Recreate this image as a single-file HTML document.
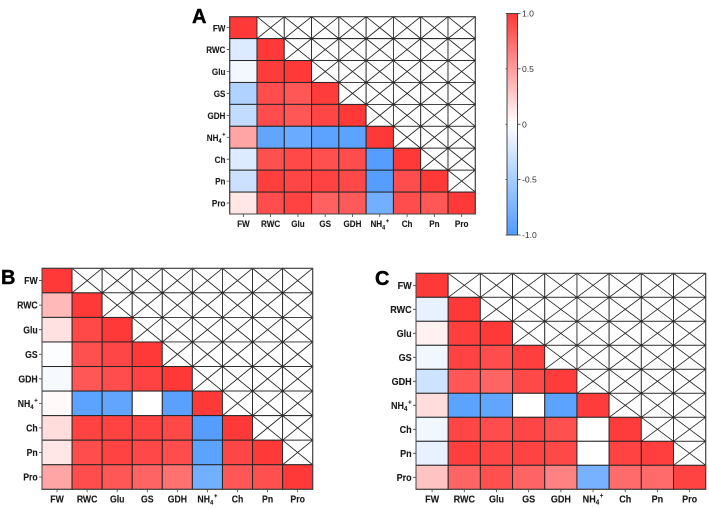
<!DOCTYPE html>
<html lang="en">
<head>
<meta charset="utf-8">
<title>Correlation heatmaps</title>
<style>
html,body{margin:0;padding:0;background:#fff;width:709px;height:508px;overflow:hidden}
svg{display:block}
text{font-family:"Liberation Sans",sans-serif}
.tick{font-weight:bold;fill:#1a1a1a;stroke:#1a1a1a;stroke-width:0.12px}
.cb{font-size:8.6px;fill:#333}
.letter{font-size:20px;font-weight:bold;fill:#000;stroke:#000;stroke-width:0.4px}
</style>
</head>
<body>
<svg id="chart" xmlns="http://www.w3.org/2000/svg" width="709" height="508" viewBox="0 0 709 508">
<defs>
<linearGradient id="cbg" x1="0" y1="0" x2="0" y2="1">
<stop offset="0" stop-color="#ff3838"/>
<stop offset="0.5" stop-color="#ffffff"/>
<stop offset="1" stop-color="#509bff"/>
</linearGradient>
</defs>
</svg>
<script>
const categories = ['FW','RWC','Glu','GS','GDH','NH4','Ch','Pn','Pro'];
const colorbarTicks = [1, 0.5, 0, -0.5, -1];
const colorbarLabels = ['1.0','0.5','0','-0.5','-1.0'];

const valuesA = [
  [1],
  [-0.2,1],
  [-0.07,0.98,1],
  [-0.45,0.9,0.85,0.98],
  [-0.35,0.9,0.85,0.93,1],
  [0.45,-0.9,-0.85,-0.93,-0.93,1],
  [-0.2,0.88,0.92,0.88,0.9,-0.97,1],
  [-0.3,0.97,0.93,0.95,0.92,-0.97,0.9,1],
  [0.12,0.9,0.95,0.8,0.83,-0.8,0.9,0.85,1]
];
const valuesB = [
  [1],
  [0.35,1],
  [0.15,0.92,1],
  [-0.02,0.88,0.93,1],
  [-0.05,0.85,0.9,0.95,1],
  [0.03,-0.93,-0.9,0,-0.95,1],
  [0.17,0.95,0.95,0.95,0.92,-0.97,1],
  [0.12,0.9,0.95,0.92,0.9,-0.93,0.93,1],
  [0.45,0.9,0.85,0.78,0.72,-0.8,0.85,0.88,1]
];
const valuesC = [
  [1],
  [-0.13,1],
  [0.07,0.97,1],
  [-0.08,0.95,0.9,0.97],
  [-0.28,0.85,0.78,0.92,0.98],
  [0.17,-0.93,-0.9,0,-0.93,0.98],
  [-0.08,0.93,0.9,0.93,0.88,0,0.98],
  [-0.13,0.97,0.93,0.95,0.92,0,0.95,0.97],
  [0.3,0.78,0.88,0.78,0.63,-0.78,0.75,0.75,0.95]
];

const svg = document.getElementById('chart');
const NS = 'http://www.w3.org/2000/svg';

function mk(tag, attrs, parent) {
  const el = document.createElementNS(NS, tag);
  for (const k in attrs) el.setAttribute(k, attrs[k]);
  parent.appendChild(el);
  return el;
}
function colorFor(v) {
  const t = Math.min(1, Math.abs(v));
  const c = v >= 0 ? [255,56,56] : [80,155,255];
  const m = c.map(x => Math.round(255 + (x - 255) * t));
  return 'rgb(' + m.join(',') + ')';
}
function putLabel(g, name, x, y, anchor, fs) {
  const t = mk('text', {transform: 'translate(' + x + ' ' + y + ') scale(0.87 1)', 'text-anchor': anchor, class: 'tick', 'font-size': fs}, g);
  
  
  if (name === 'NH4') {
    t.appendChild(document.createTextNode('NH'));
    const sub = mk('tspan', {dy: 2.2, 'font-size': fs * 0.68}, t);
    sub.textContent = '4';
    const sup = mk('tspan', {dy: -6.5, dx: 0.8, 'font-size': fs * 0.68}, t);
    sup.textContent = '+';
  } else {
    t.textContent = name;
  }
}
function drawPanel(id, letter, values, box, letterPos, fs) {
  const g = mk('g', {}, svg);
  
  
  const n = categories.length;
  const xOf = i => box.x0 + (box.x1 - box.x0) * i / n;
  const yOf = i => box.y0 + (box.y1 - box.y0) * i / n;
  for (let r = 0; r < n; r++) {
    for (let c = 0; c < n; c++) {
      const x = xOf(c), y = yOf(r), w = xOf(c + 1) - x, h = yOf(r + 1) - y;
      if (c <= r) {
        const cell = mk('rect', {x: x, y: y, width: w, height: h, fill: colorFor(values[r][c]), stroke: '#262626', 'stroke-width': 1}, g);
        
        
      } else {
        const empty = mk('path', {d: 'M' + x + ' ' + y + 'h' + w + 'v' + h + 'h' + (-w) + 'zM' + x + ' ' + y + 'L' + (x + w) + ' ' + (y + h) + 'M' + (x + w) + ' ' + y + 'L' + x + ' ' + (y + h), fill: '#fff', stroke: '#2a2a2a', 'stroke-width': 0.9}, g);
        
        
      }
    }
  }
  for (let i = 0; i < n; i++) {
    const ym = (yOf(i) + yOf(i + 1)) / 2, xm = (xOf(i) + xOf(i + 1)) / 2;
    mk('path', {d: 'M' + (box.x0 - 3) + ' ' + ym + 'H' + box.x0 + 'M' + xm + ' ' + box.y1 + 'V' + (box.y1 + 3), stroke: '#444', 'stroke-width': 0.8, fill: 'none'}, g);
    putLabel(g, categories[i], box.x0 - 4.3, ym + 3.6, 'end', fs);
    putLabel(g, categories[i], xm, box.y1 + 13.2, 'middle', fs);
  }
  const frame = mk('rect', {x: box.x0, y: box.y0, width: box.x1 - box.x0, height: box.y1 - box.y0, fill: 'none', stroke: '#444', 'stroke-width': 1}, g);
  
  
  const l = mk('text', {x: letterPos[0], y: letterPos[1], class: 'letter'}, g);
  
  
  l.textContent = letter;
}
function drawColorbar() {
  const g = mk('g', {}, svg);
  
  
  const x0 = 507, x1 = 517.5, y0 = 13.5, y1 = 235;
  const yOf = v => y0 + (1 - v) / 2 * (y1 - y0);
  const bar = mk('rect', {x: x0, y: y0, width: x1 - x0, height: y1 - y0, fill: 'url(#cbg)', stroke: '#444', 'stroke-width': 1}, g);
  
  
  colorbarTicks.forEach((v, i) => {
    mk('path', {d: 'M' + (x0 - 1.5) + ' ' + yOf(v) + 'h1.5M' + x1 + ' ' + yOf(v) + 'h3', stroke: '#333', 'stroke-width': 0.8}, g);
    const t = mk('text', {x: x1 + 4.5, y: yOf(v) + 3, class: 'cb'}, g);
    
    
    t.textContent = colorbarLabels[i];
  });
}
drawPanel('a', 'A', valuesA, {x0: 229.7, x1: 475.3, y0: 16.7, y1: 214}, [192, 23], 9.3);
drawPanel('b', 'B', valuesB, {x0: 42, x1: 312.7, y0: 268.3, y1: 489.3}, [1, 284], 10);
drawPanel('c', 'C', valuesC, {x0: 416, x1: 705.7, y0: 273.3, y1: 489.3}, [375, 285], 10.4);
drawColorbar();
</script>
</body>
</html>
